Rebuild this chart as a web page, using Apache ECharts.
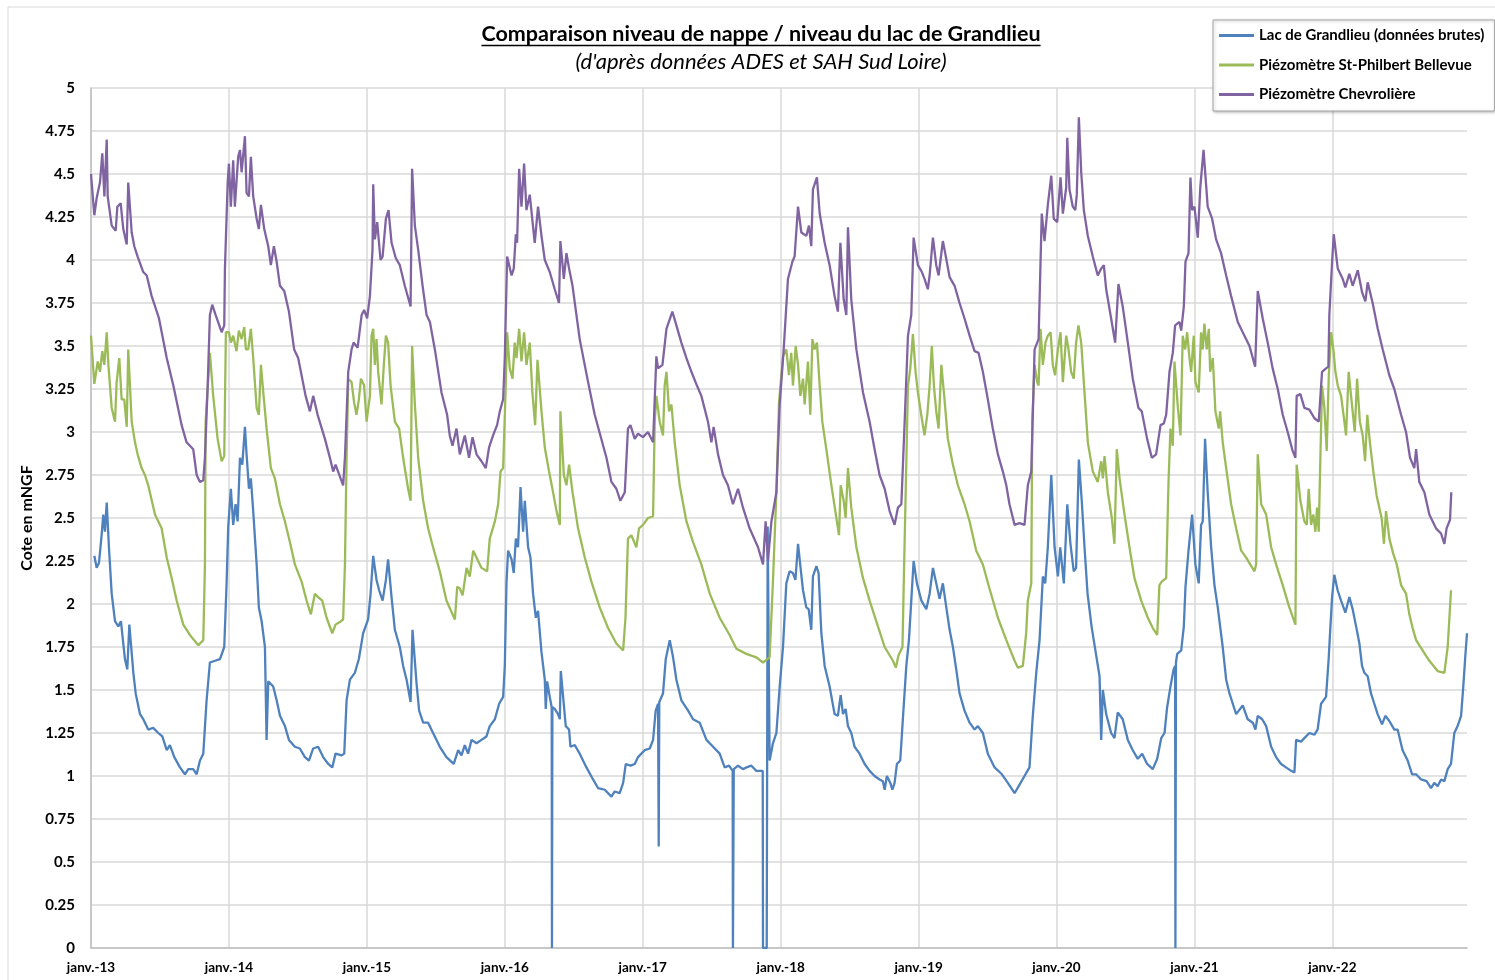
<!DOCTYPE html>
<html>
<head>
<meta charset="utf-8">
<script src="https://cdn.jsdelivr.net/npm/echarts@6/dist/echarts.min.js"></script>
<style>
html,body{margin:0;padding:0;background:#fff;}
#chart{width:1495px;height:980px;}
</style>
</head>
<body>
<div id="chart"></div>
<script>
// ---- Text ----
const chartTitle = "Comparaison niveau de nappe / niveau du lac de Grandlieu";
const chartSubtitle = "(d'après données ADES et SAH Sud Loire)";
const yAxisTitle = "Cote en mNGF";
const seriesNames = ["Lac de Grandlieu (données brutes)", "Piézomètre St-Philbert Bellevue", "Piézomètre Chevrolière"];
const yearLabels = {2013:"janv.-13",2014:"janv.-14",2015:"janv.-15",2016:"janv.-16",2017:"janv.-17",2018:"janv.-18",2019:"janv.-19",2020:"janv.-20",2021:"janv.-21",2022:"janv.-22"};

// ---- Data: [date as decimal year, level in mNGF] ----
const lacGrandlieu = [
[2013.024,2.28],[2013.041,2.21],[2013.058,2.24],[2013.077,2.40],[2013.089,2.52],[2013.101,2.42],[2013.114,2.59],[2013.130,2.33],[2013.150,2.06],[2013.174,1.90],[2013.198,1.87],[2013.217,1.90],[2013.246,1.68],[2013.263,1.62],[2013.278,1.88],[2013.307,1.60],[2013.324,1.48],[2013.355,1.36],[2013.379,1.33],[2013.415,1.27],[2013.451,1.28],[2013.488,1.25],[2013.517,1.23],[2013.549,1.15],[2013.572,1.18],[2013.604,1.11],[2013.645,1.05],[2013.681,1.01],[2013.705,1.04],[2013.741,1.04],[2013.766,1.01],[2013.790,1.09],[2013.814,1.13],[2013.838,1.44],[2013.862,1.66],[2013.899,1.67],[2013.935,1.68],[2013.966,1.75],[2013.983,2.12],[2013.995,2.45],
[2014.014,2.67],[2014.031,2.46],[2014.048,2.58],[2014.063,2.48],[2014.080,2.85],[2014.097,2.81],[2014.116,3.03],[2014.128,2.87],[2014.145,2.67],[2014.159,2.73],[2014.176,2.54],[2014.201,2.23],[2014.217,1.98],[2014.237,1.90],[2014.261,1.75],[2014.273,1.21],[2014.285,1.55],[2014.321,1.52],[2014.346,1.44],[2014.370,1.35],[2014.406,1.29],[2014.435,1.21],[2014.478,1.17],[2014.514,1.16],[2014.551,1.11],[2014.580,1.09],[2014.611,1.16],[2014.647,1.17],[2014.683,1.11],[2014.720,1.07],[2014.749,1.05],[2014.773,1.13],[2014.817,1.12],[2014.836,1.13],[2014.853,1.44],[2014.877,1.56],[2014.913,1.60],[2014.942,1.68],[2014.973,1.83],
[2015.009,1.91],[2015.027,2.06],[2015.046,2.28],[2015.070,2.14],[2015.089,2.08],[2015.114,2.02],[2015.138,2.14],[2015.154,2.26],[2015.179,2.04],[2015.203,1.85],[2015.239,1.75],[2015.263,1.64],[2015.288,1.56],[2015.317,1.43],[2015.331,1.85],[2015.360,1.54],[2015.379,1.38],[2015.408,1.31],[2015.444,1.31],[2015.480,1.25],[2015.529,1.17],[2015.577,1.11],[2015.630,1.07],[2015.662,1.15],[2015.686,1.12],[2015.710,1.18],[2015.734,1.13],[2015.759,1.21],[2015.795,1.19],[2015.831,1.21],[2015.867,1.23],[2015.891,1.29],[2015.928,1.33],[2015.959,1.42],[2015.988,1.46],
[2016.000,1.64],[2016.012,2.12],[2016.024,2.31],[2016.049,2.26],[2016.065,2.18],[2016.080,2.38],[2016.096,2.33],[2016.114,2.68],[2016.133,2.42],[2016.145,2.60],[2016.169,2.33],[2016.186,2.27],[2016.205,2.06],[2016.225,1.92],[2016.241,1.96],[2016.266,1.72],[2016.290,1.56],[2016.297,1.39],[2016.307,1.55],[2016.326,1.46],[2016.340,1.40],[2016.342,0],[2016.345,1.40],[2016.362,1.39],[2016.386,1.36],[2016.399,1.33],[2016.406,1.61],[2016.423,1.46],[2016.442,1.29],[2016.466,1.27],[2016.476,1.17],[2016.507,1.18],[2016.543,1.13],[2016.592,1.05],[2016.640,0.98],[2016.676,0.93],[2016.725,0.92],[2016.773,0.88],[2016.797,0.91],[2016.833,0.90],[2016.858,0.96],[2016.877,1.07],[2016.911,1.06],[2016.942,1.07],[2016.966,1.11],
[2017.014,1.15],[2017.051,1.16],[2017.075,1.21],[2017.094,1.38],[2017.111,1.42],[2017.116,0.59],[2017.120,1.43],[2017.147,1.48],[2017.167,1.68],[2017.196,1.79],[2017.220,1.69],[2017.244,1.56],[2017.280,1.44],[2017.329,1.38],[2017.365,1.33],[2017.413,1.31],[2017.462,1.21],[2017.510,1.17],[2017.558,1.13],[2017.594,1.05],[2017.626,1.06],[2017.652,1.03],[2017.654,0],[2017.658,0],[2017.660,1.04],[2017.691,1.06],[2017.727,1.04],[2017.751,1.05],[2017.788,1.06],[2017.824,1.03],[2017.870,1.03],[2017.872,0],[2017.899,0],[2017.906,2.45],[2017.920,1.09],[2017.944,1.19],[2017.969,1.25],[2017.993,1.52],
[2018.017,1.75],[2018.041,2.12],[2018.065,2.19],[2018.089,2.18],[2018.107,2.14],[2018.126,2.35],[2018.143,2.22],[2018.162,2.08],[2018.186,1.98],[2018.203,1.97],[2018.222,1.85],[2018.234,2.16],[2018.259,2.22],[2018.275,2.18],[2018.295,1.83],[2018.319,1.64],[2018.355,1.52],[2018.391,1.36],[2018.415,1.35],[2018.435,1.47],[2018.452,1.36],[2018.471,1.39],[2018.488,1.29],[2018.512,1.25],[2018.536,1.17],[2018.572,1.13],[2018.609,1.07],[2018.645,1.03],[2018.681,1.00],[2018.717,0.98],[2018.741,0.97],[2018.754,0.92],[2018.770,1.00],[2018.795,0.96],[2018.810,0.92],[2018.826,0.96],[2018.843,1.07],[2018.867,1.09],[2018.886,1.33],[2018.911,1.64],[2018.930,1.79],[2018.947,2.02],[2018.964,2.25],[2018.988,2.12],
[2019.020,2.02],[2019.056,1.97],[2019.080,2.06],[2019.104,2.21],[2019.128,2.12],[2019.152,2.03],[2019.176,2.12],[2019.201,1.98],[2019.225,1.85],[2019.249,1.75],[2019.273,1.62],[2019.297,1.48],[2019.333,1.38],[2019.370,1.31],[2019.406,1.27],[2019.430,1.29],[2019.466,1.25],[2019.502,1.13],[2019.551,1.05],[2019.604,1.01],[2019.647,0.96],[2019.696,0.90],[2019.732,0.95],[2019.768,1.00],[2019.804,1.05],[2019.828,1.35],[2019.853,1.60],[2019.877,1.79],[2019.901,2.16],[2019.918,2.12],[2019.937,2.33],[2019.962,2.75],[2019.986,2.33],
[2020.010,2.16],[2020.027,2.33],[2020.053,2.12],[2020.078,2.58],[2020.101,2.35],[2020.125,2.19],[2020.142,2.21],[2020.162,2.84],[2020.183,2.60],[2020.203,2.33],[2020.225,2.06],[2020.254,1.87],[2020.290,1.69],[2020.312,1.58],[2020.324,1.21],[2020.336,1.50],[2020.360,1.36],[2020.396,1.25],[2020.420,1.22],[2020.444,1.37],[2020.480,1.33],[2020.517,1.21],[2020.553,1.15],[2020.589,1.10],[2020.621,1.13],[2020.657,1.07],[2020.698,1.04],[2020.730,1.10],[2020.759,1.22],[2020.783,1.25],[2020.802,1.40],[2020.826,1.52],[2020.849,1.62],[2020.860,1.64],[2020.862,0],[2020.866,1.66],[2020.875,1.71],[2020.904,1.73],[2020.923,1.87],[2020.935,2.10],[2020.957,2.31],[2020.983,2.52],
[2021.007,2.23],[2021.031,2.12],[2021.048,2.46],[2021.060,2.48],[2021.077,2.96],[2021.096,2.65],[2021.121,2.33],[2021.145,2.11],[2021.169,1.98],[2021.205,1.75],[2021.230,1.56],[2021.254,1.48],[2021.278,1.42],[2021.302,1.36],[2021.350,1.41],[2021.386,1.33],[2021.423,1.31],[2021.442,1.27],[2021.459,1.35],[2021.491,1.33],[2021.520,1.29],[2021.556,1.17],[2021.592,1.11],[2021.628,1.07],[2021.664,1.05],[2021.701,1.03],[2021.725,1.02],[2021.737,1.21],[2021.773,1.20],[2021.797,1.22],[2021.833,1.25],[2021.870,1.24],[2021.893,1.27],[2021.918,1.42],[2021.954,1.46],[2021.973,1.68],[2021.983,1.83],[2021.998,2.04],
[2022.014,2.17],[2022.038,2.08],[2022.063,2.02],[2022.094,1.95],[2022.123,2.04],[2022.147,1.97],[2022.172,1.87],[2022.196,1.77],[2022.215,1.64],[2022.232,1.60],[2022.256,1.58],[2022.280,1.48],[2022.304,1.42],[2022.328,1.36],[2022.360,1.30],[2022.384,1.35],[2022.413,1.32],[2022.449,1.27],[2022.473,1.27],[2022.509,1.15],[2022.546,1.09],[2022.578,1.01],[2022.607,1.01],[2022.643,0.98],[2022.683,0.97],[2022.715,0.93],[2022.739,0.96],[2022.763,0.94],[2022.788,0.98],[2022.812,0.97],[2022.836,1.04],[2022.860,1.07],[2022.884,1.25],[2022.908,1.29],[2022.933,1.35],[2022.949,1.52],[2022.964,1.70],[2022.976,1.83]
];

const stPhilbert = [
[2013.000,3.56],[2013.024,3.28],[2013.049,3.41],[2013.065,3.35],[2013.082,3.47],[2013.097,3.39],[2013.114,3.58],[2013.126,3.39],[2013.150,3.14],[2013.174,3.06],[2013.186,3.29],[2013.205,3.43],[2013.222,3.19],[2013.241,3.19],[2013.259,3.03],[2013.270,3.48],[2013.295,3.06],[2013.319,2.94],[2013.338,2.87],[2013.367,2.79],[2013.391,2.75],[2013.415,2.69],[2013.464,2.52],[2013.512,2.44],[2013.549,2.27],[2013.585,2.15],[2013.621,2.02],[2013.669,1.88],[2013.717,1.82],[2013.778,1.76],[2013.814,1.79],[2013.826,2.23],[2013.831,3.06],[2013.862,3.46],[2013.886,3.21],[2013.918,2.96],[2013.947,2.83],[2013.966,2.86],[2013.978,3.58],
[2014.000,3.58],[2014.014,3.52],[2014.031,3.56],[2014.055,3.47],[2014.072,3.59],[2014.092,3.54],[2014.111,3.61],[2014.123,3.48],[2014.140,3.48],[2014.159,3.60],[2014.176,3.43],[2014.201,3.14],[2014.217,3.10],[2014.232,3.39],[2014.249,3.23],[2014.273,3.02],[2014.304,2.79],[2014.333,2.73],[2014.370,2.58],[2014.406,2.48],[2014.442,2.36],[2014.478,2.23],[2014.527,2.13],[2014.563,2.02],[2014.594,1.94],[2014.623,2.06],[2014.647,2.04],[2014.676,2.02],[2014.708,1.92],[2014.749,1.83],[2014.773,1.88],[2014.812,1.90],[2014.828,1.91],[2014.841,2.23],[2014.853,2.85],[2014.865,3.31],[2014.889,3.29],[2014.908,3.17],[2014.925,3.10],[2014.942,3.19],[2014.957,3.31],[2014.980,3.27],[2014.998,3.06],
[2015.022,3.21],[2015.034,3.56],[2015.046,3.60],[2015.058,3.39],[2015.070,3.54],[2015.082,3.35],[2015.106,3.16],[2015.123,3.39],[2015.138,3.56],[2015.154,3.52],[2015.172,3.27],[2015.203,3.06],[2015.234,3.02],[2015.263,2.85],[2015.299,2.67],[2015.317,2.60],[2015.328,3.50],[2015.348,3.16],[2015.372,2.85],[2015.408,2.60],[2015.444,2.44],[2015.480,2.33],[2015.529,2.19],[2015.577,2.02],[2015.638,1.91],[2015.655,2.10],[2015.674,2.09],[2015.694,2.05],[2015.723,2.21],[2015.746,2.16],[2015.771,2.31],[2015.795,2.27],[2015.831,2.21],[2015.872,2.19],[2015.891,2.38],[2015.928,2.48],[2015.952,2.58],[2015.969,2.77],[2015.988,2.79],
[2016.007,3.27],[2016.017,3.58],[2016.036,3.37],[2016.056,3.31],[2016.072,3.52],[2016.085,3.43],[2016.104,3.60],[2016.121,3.41],[2016.140,3.58],[2016.157,3.39],[2016.181,3.52],[2016.200,3.23],[2016.220,3.04],[2016.237,3.42],[2016.266,3.12],[2016.290,2.91],[2016.321,2.77],[2016.350,2.65],[2016.375,2.54],[2016.399,2.46],[2016.403,3.12],[2016.428,2.75],[2016.447,2.69],[2016.466,2.81],[2016.491,2.65],[2016.531,2.44],[2016.580,2.27],[2016.628,2.13],[2016.688,1.98],[2016.749,1.86],[2016.809,1.77],[2016.858,1.73],[2016.875,1.92],[2016.893,2.38],[2016.918,2.40],[2016.954,2.33],[2016.973,2.44],
[2017.002,2.46],[2017.038,2.50],[2017.075,2.51],[2017.087,3.06],[2017.099,3.21],[2017.123,3.06],[2017.147,2.98],[2017.159,3.27],[2017.172,3.35],[2017.191,3.12],[2017.208,3.16],[2017.232,2.94],[2017.268,2.69],[2017.317,2.48],[2017.365,2.36],[2017.425,2.23],[2017.486,2.06],[2017.558,1.92],[2017.630,1.82],[2017.679,1.74],[2017.751,1.71],[2017.824,1.69],[2017.872,1.66],[2017.920,1.69],[2017.945,2.15],[2017.969,2.65],[2017.988,3.17],
[2018.017,3.44],[2018.041,3.48],[2018.060,3.33],[2018.077,3.46],[2018.089,3.27],[2018.109,3.50],[2018.126,3.39],[2018.143,3.21],[2018.162,3.31],[2018.174,3.16],[2018.198,3.41],[2018.215,3.10],[2018.230,3.54],[2018.246,3.48],[2018.263,3.52],[2018.283,3.27],[2018.302,3.06],[2018.331,2.90],[2018.368,2.69],[2018.404,2.50],[2018.423,2.40],[2018.435,2.69],[2018.457,2.60],[2018.471,2.50],[2018.488,2.79],[2018.512,2.56],[2018.549,2.33],[2018.597,2.15],[2018.645,2.02],[2018.693,1.90],[2018.754,1.75],[2018.814,1.67],[2018.835,1.63],[2018.854,1.70],[2018.883,1.75],[2018.895,2.22],[2018.923,3.27],[2018.940,3.37],[2018.959,3.57],[2018.978,3.35],[2018.995,3.23],
[2019.019,3.10],[2019.043,2.98],[2019.063,3.10],[2019.080,3.27],[2019.096,3.50],[2019.111,3.27],[2019.128,3.12],[2019.145,3.02],[2019.165,3.39],[2019.188,3.19],[2019.212,2.96],[2019.249,2.81],[2019.285,2.69],[2019.333,2.58],[2019.370,2.48],[2019.418,2.31],[2019.466,2.23],[2019.514,2.09],[2019.575,1.92],[2019.636,1.79],[2019.696,1.67],[2019.720,1.63],[2019.756,1.64],[2019.780,1.83],[2019.792,2.02],[2019.817,2.12],[2019.824,3.06],[2019.841,3.39],[2019.860,3.29],[2019.870,3.27],[2019.884,3.60],[2019.901,3.39],[2019.920,3.52],[2019.937,3.56],[2019.957,3.58],[2019.973,3.39],[2019.990,3.33],
[2020.010,3.48],[2020.029,3.58],[2020.046,3.29],[2020.070,3.56],[2020.087,3.48],[2020.106,3.35],[2020.125,3.31],[2020.142,3.52],[2020.159,3.62],[2020.179,3.52],[2020.203,3.23],[2020.227,2.94],[2020.263,2.77],[2020.299,2.71],[2020.324,2.83],[2020.336,2.73],[2020.348,2.86],[2020.372,2.65],[2020.401,2.50],[2020.420,2.35],[2020.437,2.90],[2020.457,2.73],[2020.493,2.52],[2020.529,2.33],[2020.565,2.15],[2020.614,2.02],[2020.662,1.92],[2020.698,1.86],[2020.730,1.82],[2020.746,2.11],[2020.763,2.13],[2020.795,2.15],[2020.812,2.71],[2020.826,3.02],[2020.843,2.92],[2020.855,3.41],[2020.880,3.14],[2020.899,2.98],[2020.915,3.56],[2020.933,3.48],[2020.947,3.58],[2020.964,3.43],[2020.976,3.35],[2020.995,3.56],
[2021.007,3.29],[2021.031,3.23],[2021.048,3.58],[2021.060,3.48],[2021.072,3.63],[2021.089,3.48],[2021.104,3.60],[2021.114,3.35],[2021.133,3.43],[2021.152,3.12],[2021.176,3.02],[2021.186,3.12],[2021.205,2.94],[2021.230,2.79],[2021.266,2.58],[2021.302,2.44],[2021.339,2.31],[2021.375,2.27],[2021.404,2.23],[2021.435,2.19],[2021.447,2.23],[2021.459,2.87],[2021.484,2.58],[2021.520,2.52],[2021.556,2.33],[2021.592,2.23],[2021.640,2.11],[2021.688,1.98],[2021.732,1.88],[2021.741,2.81],[2021.768,2.60],[2021.797,2.48],[2021.814,2.46],[2021.828,2.67],[2021.846,2.46],[2021.862,2.52],[2021.877,2.42],[2021.889,2.56],[2021.901,2.42],[2021.913,2.85],[2021.925,3.27],[2021.942,3.14],[2021.959,2.89],[2021.974,3.33],[2021.991,3.58],
[2022.007,3.48],[2022.022,3.35],[2022.039,3.27],[2022.063,3.21],[2022.087,3.06],[2022.099,2.98],[2022.118,3.35],[2022.138,3.19],[2022.162,3.00],[2022.179,3.31],[2022.199,3.06],[2022.220,2.98],[2022.237,2.83],[2022.253,3.10],[2022.272,2.94],[2022.297,2.77],[2022.321,2.63],[2022.357,2.50],[2022.374,2.35],[2022.389,2.54],[2022.413,2.38],[2022.442,2.29],[2022.467,2.23],[2022.498,2.11],[2022.534,2.06],[2022.558,1.94],[2022.582,1.86],[2022.607,1.79],[2022.654,1.73],[2022.703,1.67],[2022.763,1.61],[2022.812,1.60],[2022.836,1.75],[2022.860,2.08]
];

const chevroliere = [
[2013.000,4.50],[2013.024,4.26],[2013.041,4.36],[2013.065,4.45],[2013.082,4.62],[2013.097,4.37],[2013.114,4.70],[2013.121,4.37],[2013.150,4.20],[2013.179,4.17],[2013.191,4.31],[2013.215,4.33],[2013.234,4.18],[2013.259,4.09],[2013.270,4.45],[2013.295,4.16],[2013.314,4.08],[2013.338,4.02],[2013.379,3.93],[2013.404,3.91],[2013.440,3.79],[2013.493,3.66],[2013.549,3.43],[2013.597,3.27],[2013.657,3.04],[2013.693,2.94],[2013.741,2.90],[2013.766,2.75],[2013.790,2.71],[2013.814,2.72],[2013.826,2.85],[2013.846,3.27],[2013.862,3.68],[2013.879,3.74],[2013.904,3.68],[2013.947,3.58],[2013.966,3.62],[2013.971,3.95],[2013.991,4.45],
[2014.000,4.56],[2014.014,4.31],[2014.031,4.58],[2014.043,4.31],[2014.067,4.60],[2014.080,4.64],[2014.092,4.51],[2014.116,4.72],[2014.128,4.39],[2014.145,4.37],[2014.159,4.60],[2014.176,4.37],[2014.201,4.24],[2014.217,4.18],[2014.232,4.32],[2014.256,4.18],[2014.285,4.08],[2014.304,3.97],[2014.326,4.08],[2014.346,3.99],[2014.370,3.85],[2014.401,3.82],[2014.435,3.70],[2014.473,3.48],[2014.502,3.43],[2014.556,3.21],[2014.587,3.12],[2014.611,3.21],[2014.643,3.10],[2014.696,2.96],[2014.732,2.85],[2014.756,2.77],[2014.773,2.81],[2014.828,2.69],[2014.841,2.85],[2014.865,3.35],[2014.889,3.48],[2014.904,3.52],[2014.933,3.49],[2014.962,3.68],[2014.980,3.71],
[2015.002,3.66],[2015.022,3.79],[2015.041,4.06],[2015.046,4.44],[2015.058,4.12],[2015.075,4.22],[2015.099,4.00],[2015.114,4.02],[2015.138,4.24],[2015.157,4.29],[2015.179,4.10],[2015.210,4.01],[2015.239,3.97],[2015.275,3.85],[2015.317,3.73],[2015.328,4.53],[2015.348,4.20],[2015.372,4.06],[2015.404,3.85],[2015.433,3.68],[2015.457,3.64],[2015.493,3.48],[2015.541,3.23],[2015.582,3.10],[2015.601,2.98],[2015.621,2.92],[2015.650,3.02],[2015.674,2.87],[2015.710,2.98],[2015.741,2.85],[2015.766,2.97],[2015.795,2.87],[2015.831,2.83],[2015.862,2.79],[2015.886,2.91],[2015.915,2.98],[2015.944,3.04],[2015.964,3.12],[2015.988,3.19],
[2016.000,3.43],[2016.017,4.02],[2016.049,3.91],[2016.065,3.95],[2016.080,4.15],[2016.089,4.10],[2016.104,4.53],[2016.121,4.31],[2016.140,4.56],[2016.157,4.29],[2016.181,4.38],[2016.217,4.10],[2016.241,4.31],[2016.266,4.14],[2016.290,4.00],[2016.326,3.93],[2016.362,3.83],[2016.393,3.75],[2016.403,4.11],[2016.428,3.89],[2016.447,4.04],[2016.466,3.95],[2016.491,3.85],[2016.543,3.54],[2016.604,3.29],[2016.652,3.10],[2016.693,2.98],[2016.737,2.85],[2016.773,2.71],[2016.809,2.67],[2016.838,2.60],[2016.870,2.65],[2016.893,3.02],[2016.911,3.04],[2016.942,2.96],[2016.966,2.99],
[2017.002,2.97],[2017.038,3.00],[2017.075,2.94],[2017.099,3.44],[2017.111,3.37],[2017.143,3.39],[2017.172,3.60],[2017.215,3.70],[2017.244,3.62],[2017.280,3.52],[2017.317,3.43],[2017.353,3.35],[2017.393,3.27],[2017.425,3.21],[2017.473,3.06],[2017.498,2.94],[2017.514,3.03],[2017.546,2.87],[2017.582,2.75],[2017.618,2.69],[2017.654,2.58],[2017.691,2.67],[2017.727,2.56],[2017.775,2.44],[2017.836,2.33],[2017.872,2.23],[2017.891,2.48],[2017.908,2.25],[2017.933,2.48],[2017.969,2.65],[2017.993,3.16],
[2018.022,3.48],[2018.053,3.89],[2018.085,3.99],[2018.101,4.02],[2018.126,4.31],[2018.150,4.16],[2018.186,4.14],[2018.205,4.20],[2018.222,4.08],[2018.234,4.41],[2018.263,4.48],[2018.283,4.27],[2018.319,4.10],[2018.355,3.97],[2018.391,3.79],[2018.415,3.70],[2018.433,4.10],[2018.457,3.77],[2018.476,3.68],[2018.488,4.19],[2018.512,3.77],[2018.549,3.48],[2018.597,3.23],[2018.645,3.06],[2018.681,2.90],[2018.717,2.75],[2018.754,2.67],[2018.790,2.54],[2018.826,2.46],[2018.850,2.56],[2018.875,2.58],[2018.899,3.06],[2018.923,3.56],[2018.947,3.68],[2018.964,4.13],[2018.995,3.97],
[2019.024,3.93],[2019.043,3.89],[2019.067,3.83],[2019.080,3.91],[2019.104,4.13],[2019.128,3.97],[2019.145,3.91],[2019.176,4.11],[2019.193,4.04],[2019.225,3.90],[2019.261,3.85],[2019.297,3.75],[2019.333,3.66],[2019.370,3.56],[2019.406,3.47],[2019.435,3.46],[2019.466,3.35],[2019.502,3.19],[2019.538,3.02],[2019.575,2.87],[2019.611,2.77],[2019.636,2.69],[2019.659,2.58],[2019.696,2.46],[2019.732,2.47],[2019.768,2.46],[2019.792,2.69],[2019.817,2.77],[2019.841,3.48],[2019.870,3.54],[2019.893,4.27],[2019.913,4.11],[2019.937,4.32],[2019.962,4.49],[2019.980,4.24],
[2020.005,4.22],[2020.029,4.48],[2020.046,4.27],[2020.070,4.42],[2020.078,4.71],[2020.094,4.41],[2020.118,4.31],[2020.136,4.29],[2020.147,4.38],[2020.162,4.83],[2020.179,4.51],[2020.198,4.29],[2020.227,4.14],[2020.263,4.02],[2020.299,3.91],[2020.324,3.95],[2020.343,3.97],[2020.360,3.83],[2020.396,3.66],[2020.425,3.52],[2020.449,3.86],[2020.480,3.73],[2020.517,3.52],[2020.553,3.31],[2020.594,3.14],[2020.618,3.12],[2020.657,2.96],[2020.691,2.85],[2020.722,2.87],[2020.754,3.04],[2020.778,3.05],[2020.795,3.10],[2020.819,3.35],[2020.843,3.46],[2020.860,3.62],[2020.891,3.64],[2020.904,3.59],[2020.923,3.73],[2020.935,3.99],[2020.957,4.04],[2020.971,4.48],[2020.983,4.29],
[2021.000,4.31],[2021.024,4.13],[2021.043,4.43],[2021.066,4.64],[2021.096,4.31],[2021.128,4.24],[2021.157,4.12],[2021.193,4.04],[2021.230,3.91],[2021.266,3.79],[2021.314,3.64],[2021.350,3.58],[2021.399,3.50],[2021.440,3.38],[2021.459,3.82],[2021.495,3.66],[2021.531,3.52],[2021.567,3.37],[2021.604,3.25],[2021.640,3.10],[2021.676,3.00],[2021.712,2.89],[2021.732,2.85],[2021.741,3.21],[2021.768,3.22],[2021.797,3.14],[2021.833,3.13],[2021.870,3.08],[2021.901,3.06],[2021.925,3.35],[2021.954,3.37],[2021.971,3.38],[2021.978,3.68],[2021.998,3.99],
[2022.010,4.15],[2022.039,3.95],[2022.075,3.89],[2022.094,3.84],[2022.123,3.92],[2022.147,3.85],[2022.184,3.94],[2022.216,3.81],[2022.239,3.76],[2022.256,3.87],[2022.292,3.75],[2022.329,3.60],[2022.365,3.48],[2022.413,3.33],[2022.449,3.25],[2022.498,3.10],[2022.534,3.00],[2022.563,2.85],[2022.594,2.79],[2022.607,2.90],[2022.630,2.71],[2022.667,2.65],[2022.703,2.52],[2022.751,2.44],[2022.788,2.41],[2022.812,2.35],[2022.828,2.44],[2022.853,2.49],[2022.862,2.65]
];

// ---- Styles ----
const colors = ['#4F81BD', '#9BBB59', '#8064A2'];
const FONT = 'Lato';
const xStart = 2013;
const xEnd = lacGrandlieu[lacGrandlieu.length - 1][0];

function measure(text, font) {
  const c = document.createElement('canvas').getContext('2d');
  c.font = font;
  return c.measureText(text).width;
}

const chart = echarts.init(document.getElementById('chart'));
const titleFont = 'bold 21.5px ' + FONT;
const titleX = 761;
const titleW = measure(chartTitle, titleFont);

const option = {
  backgroundColor: '#fff',
  animation: false,
  textStyle: { fontFamily: FONT },
  grid: { left: 91, right: 28, top: 88, bottom: 32, containLabel: false },
  legend: {
    orient: 'vertical',
    left: 1213, top: 20,
    padding: [8, 10, 9, 6],
    itemGap: 14.5,
    itemWidth: 35, itemHeight: 3,
    icon: 'rect',
    borderColor: '#a6a6a6', borderWidth: 1,
    backgroundColor: '#fff',
    shadowColor: 'rgba(0,0,0,0.25)', shadowBlur: 3, shadowOffsetX: 1, shadowOffsetY: 1,
    textStyle: { fontFamily: FONT, fontWeight: 'bold', fontSize: 15, color: '#000' },
    data: seriesNames
  },
  xAxis: {
    type: 'value',
    min: xStart, max: xEnd, interval: 1,
    axisLine: { show: true, lineStyle: { color: '#bfbfbf', width: 1.5 } },
    axisTick: { show: false },
    splitLine: { show: true, showMaxLine: false, lineStyle: { color: '#d9d9d9', width: 1.5 } },
    axisLabel: {
      showMaxLabel: false,
      margin: 13,
      fontFamily: FONT, fontWeight: 'bold', fontSize: 13.5, color: '#000',
      formatter: v => yearLabels[Math.round(v)] && Math.abs(v - Math.round(v)) < 1e-6 ? yearLabels[Math.round(v)] : ''
    }
  },
  yAxis: {
    type: 'value',
    min: 0, max: 5, interval: 0.25,
    name: yAxisTitle,
    nameLocation: 'middle', nameRotate: 90, nameGap: 53,
    nameTextStyle: { fontFamily: FONT, fontWeight: 'bold', fontSize: 16, color: '#000' },
    axisLine: { show: true, lineStyle: { color: '#bfbfbf', width: 1.5 } },
    axisTick: { show: false },
    splitLine: { show: true, lineStyle: { color: '#d9d9d9', width: 1.5 } },
    axisLabel: { margin: 16, fontFamily: FONT, fontWeight: 'bold', fontSize: 15, color: '#000' }
  },
  graphic: [
    { type: 'rect', silent: true, shape: { x: 8, y: 7, width: 1500, height: 990 }, style: { fill: 'none', stroke: '#d9d9d9', lineWidth: 1 } },
    { type: 'text', x: titleX, y: 34, style: { text: chartTitle, font: titleFont, fill: '#000', textAlign: 'center', textVerticalAlign: 'middle' } },
    { type: 'line', shape: { x1: titleX - titleW / 2, y1: 45.5, x2: titleX + titleW / 2, y2: 45.5 }, style: { stroke: '#000', lineWidth: 1.3 } },
    { type: 'text', x: titleX, y: 62, style: { text: chartSubtitle, font: 'italic 22px ' + FONT, fill: '#000', textAlign: 'center', textVerticalAlign: 'middle' } }
  ],
  series: [
    { name: seriesNames[0], type: 'line', data: lacGrandlieu, showSymbol: false, symbol: 'none', lineStyle: { width: 2.3, color: colors[0] }, itemStyle: { color: colors[0] }, z: 2 },
    { name: seriesNames[1], type: 'line', data: stPhilbert, showSymbol: false, symbol: 'none', lineStyle: { width: 2.3, color: colors[1] }, itemStyle: { color: colors[1] }, z: 3 },
    { name: seriesNames[2], type: 'line', data: chevroliere, showSymbol: false, symbol: 'none', lineStyle: { width: 2.3, color: colors[2] }, itemStyle: { color: colors[2] }, z: 4 }
  ]
};
chart.setOption(option);
</script>
</body>
</html>
